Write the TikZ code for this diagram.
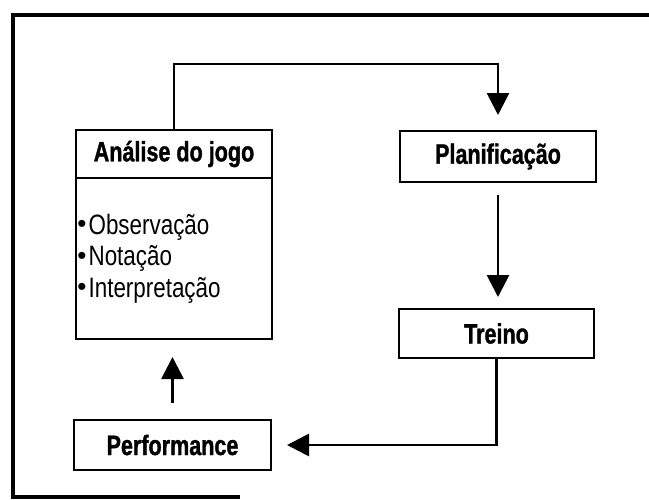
\documentclass[tikz,border=0pt]{standalone}
\usepackage{fontspec}
\setmainfont{Liberation Sans}
\newfontfamily\narrowfont[FakeStretch=0.77,BoldFeatures={FakeBold=1.2}]{Liberation Sans}
\newfontfamily\itemfont[FakeStretch=0.8]{Liberation Sans}
\usetikzlibrary{arrows.meta,positioning}

% small bullet in front of each item
\newcommand{\itemdot}{\raisebox{1.5pt}{\rmfamily\fontsize{26}{26}\selectfont •}\hspace{2pt}}

\begin{document}
\begin{tikzpicture}[
      x=1pt,y=-1pt,
      every node/.style={font=\itemfont\fontsize{28}{31.5}\selectfont},
      box/.style={rectangle,draw,line width=2.5pt,outer sep=0pt,minimum width=196pt,
                  font=\narrowfont\bfseries\fontsize{28}{30}\selectfont},
      conn/.style={line width=2.8pt,-{Triangle[length=22pt,width=22pt]}},
      frame/.style={line width=3.5pt}
  ]
  \useasboundingbox (0,0) rectangle (649,499);

  % ===================== moldura =====================
  \draw[frame] (652,15) -- (13,15) -- (13,497) -- (240,497);

  % ===================== caixas =====================
  \node[box,minimum height=48pt] (anahead) at (174,154) {Análise do jogo};
  \node[box,below=0pt of anahead,minimum height=161pt,text width=193pt,align=left,
        inner xsep=0pt,font=\itemfont\fontsize{28}{31.5}\selectfont] (anabody)
      {\itemdot Observação\\\itemdot Notação\\\itemdot Interpretação};

  \node[box,minimum height=51pt] (plan) at (498,156.5) {Planificação};
  \node[box,minimum height=49pt,minimum width=195pt] (treino) at (496.5,333.5) {Treino};
  \node[box,minimum height=50pt,minimum width=197pt] (perf) at (172.5,445) {Performance};

  % ===================== setas do ciclo =====================
  \coordinate (loop) at (336,64);
  \draw[conn,shorten >=16pt] (anahead.north) |- (loop) -| (plan.north);

  \draw[conn,shorten <=13pt,shorten >=12pt] (plan.south) -- (plan.south |- treino.north);

  \draw[conn,shorten >=16pt] (treino.south) |- (perf.east);

  \draw[conn,shorten <=17pt,shorten >=18pt] (perf.north) -- (perf.north |- anabody.south);

\end{tikzpicture}
\end{document}
